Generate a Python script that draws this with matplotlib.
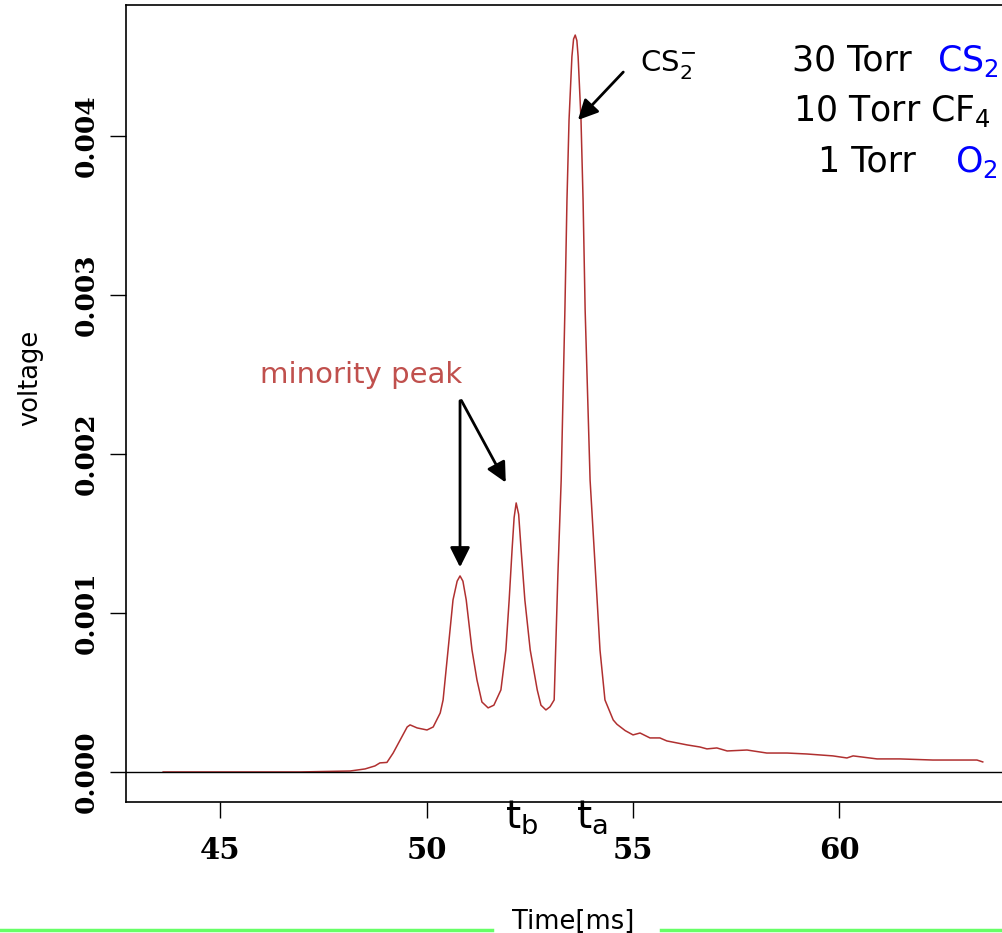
import matplotlib
matplotlib.use('Agg')
import matplotlib.pyplot as plt
from matplotlib.lines import Line2D
import numpy as np

# signal (time in ms, voltage in mV)
time_ms = [43.62, 44.52, 45.73, 46.94, 48.15, 48.51, 48.75, 48.87, 49.04, 49.19,
           49.36, 49.53, 49.60, 49.77, 50.01, 50.16, 50.33, 50.40, 50.52, 50.64,
           50.74, 50.81, 50.88, 50.96, 51.10, 51.22, 51.34, 51.49, 51.63, 51.80,
           51.92, 52.00, 52.07, 52.12, 52.17, 52.23, 52.29, 52.38, 52.51, 52.68,
           52.77, 52.89, 52.99, 53.09, 53.18, 53.26, 53.35, 53.40, 53.45, 53.52,
           53.56, 53.60, 53.64, 53.67, 53.74, 53.79, 53.84, 53.96, 54.13, 54.20,
           54.32, 54.52, 54.61, 54.81, 55.00, 55.17, 55.41, 55.65, 55.82, 56.31,
           56.62, 56.79, 57.03, 57.28, 57.76, 58.24, 58.73, 59.21, 59.84, 60.18,
           60.33, 60.91, 61.46, 62.26, 63.33, 63.47]
voltage_mv = [0.0, 0.0, 0.0, 0.0, 0.006, 0.019, 0.038, 0.057, 0.060, 0.119,
              0.201, 0.283, 0.296, 0.277, 0.264, 0.283, 0.371, 0.453, 0.767, 1.082,
              1.200, 1.233, 1.200, 1.082, 0.767, 0.579, 0.440, 0.403, 0.420, 0.516,
              0.767, 1.082, 1.396, 1.600, 1.692, 1.620, 1.396, 1.082, 0.767, 0.516,
              0.420, 0.390, 0.410, 0.453, 1.240, 1.836, 2.906, 3.597, 4.101, 4.500,
              4.610, 4.635, 4.600, 4.500, 4.101, 3.597, 2.906, 1.836, 1.082, 0.767,
              0.453, 0.327, 0.300, 0.260, 0.233, 0.245, 0.214, 0.214, 0.195, 0.170,
              0.157, 0.145, 0.151, 0.132, 0.138, 0.119, 0.119, 0.113, 0.101, 0.088,
              0.101, 0.082, 0.082, 0.075, 0.075, 0.063]

x_ticks = [45, 50, 55, 60]
y_ticks = [0.000, 0.001, 0.002, 0.003, 0.004]

t = np.array(time_ms)
v = np.array(voltage_mv) / 1000.0

fig = plt.figure(figsize=(10.03, 9.33), dpi=100)
fig.patch.set_facecolor('white')
W, H = 1003, 933
ax = fig.add_axes([126 / W, (H - 802) / H, (1010 - 126) / W, (802 - 5) / H])

ax.plot(t, v, color='#B03030', lw=1.1)
ax.axhline(0, color='black', lw=1.0)

ax.set_xlim(42.72, 64.13)
ax.set_ylim(-0.000189, 0.004824)
ax.set_xticks(x_ticks)
ax.set_yticks(y_ticks)
ax.set_xticklabels([str(x) for x in x_ticks])
ax.set_yticklabels(['%.3f' % y for y in y_ticks])

for s in ['left', 'bottom', 'top', 'right']:
    ax.spines[s].set_linewidth(1.2)
ax.tick_params(axis='both', direction='out', length=11.5, width=1.0)
ax.tick_params(axis='x', pad=13)
ax.tick_params(axis='y', pad=8)
for lab in ax.get_xticklabels():
    lab.set_fontfamily('DejaVu Serif')
    lab.set_fontweight('bold')
    lab.set_fontsize(21)
for lab in ax.get_yticklabels():
    lab.set_fontfamily('DejaVu Serif')
    lab.set_fontweight('bold')
    lab.set_fontsize(19)
    lab.set_rotation(90)
    lab.set_va('center')

ax.set_xlabel('Time[ms]', fontsize=18.5)
ax.xaxis.label.set_va('baseline')
ax.xaxis.set_label_coords(0.5057, -0.1593)
ax.set_ylabel('voltage', fontsize=18.5)
ax.yaxis.label.set_va('center')
ax.yaxis.set_label_coords(-0.1086, 0.532)

# green separators under the axis title
fig.add_artist(Line2D([0, 492 / W], [1 - 930 / H] * 2, color='#66FF66', lw=2.5))
fig.add_artist(Line2D([661 / W, 1], [1 - 930 / H] * 2, color='#66FF66', lw=2.5))

# annotations
arrow_style = dict(arrowstyle='-|>', color='black', lw=2, mutation_scale=30)
ax.annotate('', xy=(53.62, 0.004088), xytext=(54.81, 0.004415), arrowprops=arrow_style)
ax.text(55.17, 0.004447, r'CS$_\mathregular{2}^\mathregular{-}$', fontsize=21,
        ha='left', va='center')

ax.text(45.97, 0.002447, 'minority peak', color='#C0504D', fontsize=21,
        ha='left', va='baseline')
ax.annotate('', xy=(50.81, 0.00127), xytext=(50.81, 0.002352), arrowprops=arrow_style)
ax.annotate('', xy=(51.95, 0.001805), xytext=(50.81, 0.002352), arrowprops=arrow_style)

# gas mixture
ax.text(58.85, 0.004409, '30 Torr', fontsize=25, ha='left', va='baseline')
ax.text(62.36, 0.004409, r'CS$_\mathregular{2}$', fontsize=25, color='#0000FF',
        ha='left', va='baseline')
ax.text(58.87, 0.004094, r'10 Torr CF$_\mathregular{4}$', fontsize=25,
        ha='left', va='baseline')
ax.text(59.48, 0.003774, '1 Torr', fontsize=25, ha='left', va='baseline')
ax.text(62.80, 0.003774, r'O$_\mathregular{2}$', fontsize=25, color='#0000FF',
        ha='left', va='baseline')

# arrival times below the axis
ax.text(52.30, -0.000165, r't$_\mathregular{b}$', fontsize=28, ha='center', va='top',
        clip_on=False)
ax.text(54.00, -0.000165, r't$_\mathregular{a}$', fontsize=28, ha='center', va='top',
        clip_on=False)

fig.savefig('out.png', dpi=100, facecolor='white')
